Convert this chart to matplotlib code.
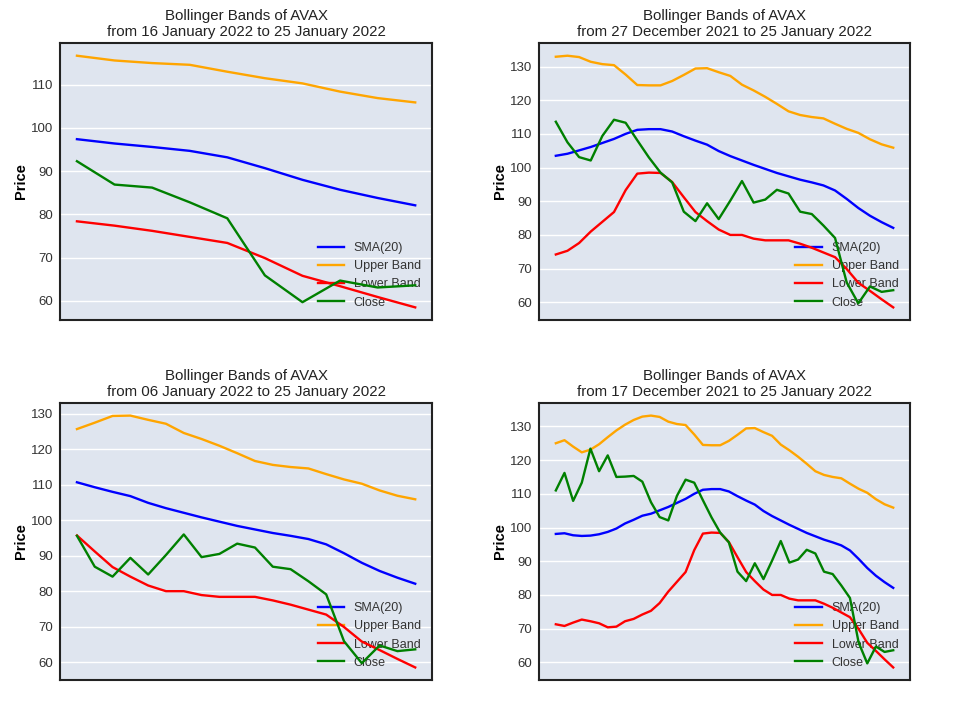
import matplotlib
matplotlib.use("Agg")
import matplotlib.pyplot as plt
import pandas as pd

plt.rcParams["font.family"] = ["Liberation Sans", "DejaVu Sans"]

# daily values, 17 Dec 2021 .. 25 Jan 2022
dates = pd.date_range("2021-12-17", "2022-01-25", freq="D")

close = [111.0, 116.2, 107.9, 113.3, 123.4, 116.7, 121.4, 115.0, 115.1, 115.3,
         113.6, 107.5, 103.1, 102.1, 109.4, 114.2, 113.3, 108.1, 103.0, 98.5,
         95.6, 86.9, 84.1, 89.4, 84.7, 90.2, 96.0, 89.6, 90.5, 93.4,
         92.3, 86.9, 86.2, 82.8, 79.1, 65.9, 59.7, 64.7, 63.1, 63.6]

sma = [98.1, 98.3, 97.7, 97.5, 97.6, 98.0, 98.7, 99.7, 101.2, 102.3,
       103.5, 104.1, 105.1, 106.1, 107.3, 108.5, 110.0, 111.2, 111.4, 111.4,
       110.7, 109.3, 108.0, 106.8, 104.9, 103.4, 102.1, 100.8, 99.6, 98.4,
       97.4, 96.4, 95.6, 94.7, 93.2, 90.7, 88.0, 85.7, 83.8, 82.1]

upper = [125.0, 125.9, 124.0, 122.3, 123.1, 124.7, 126.8, 128.8, 130.5, 131.9,
         132.9, 133.2, 132.8, 131.4, 130.7, 130.4, 127.6, 124.5, 124.4, 124.4,
         125.7, 127.5, 129.4, 129.5, 128.3, 127.2, 124.6, 122.9, 121.0, 118.9,
         116.7, 115.6, 115.0, 114.6, 113.0, 111.5, 110.3, 108.4, 106.9, 105.9]

lower = [71.3, 70.8, 71.8, 72.7, 72.2, 71.6, 70.4, 70.6, 72.2, 72.9,
         74.2, 75.3, 77.6, 81.0, 83.9, 86.8, 93.3, 98.2, 98.5, 98.4,
         95.7, 91.2, 86.8, 84.1, 81.6, 80.0, 80.0, 78.9, 78.4, 78.4,
         78.4, 77.4, 76.2, 74.8, 73.4, 69.9, 65.8, 63.4, 60.9, 58.5]

# how many days each panel shows (TL, TR, BL, BR)
windows = [10, 30, 20, 40]

bg = "#dfe5ef"
fig = plt.figure(figsize=(9.59, 7.19), dpi=100)
boxes = [[0.0626, 0.555, 0.388, 0.385],
         [0.562, 0.555, 0.387, 0.385],
         [0.0626, 0.0542, 0.388, 0.3853],
         [0.562, 0.0542, 0.387, 0.3853]]

for box, n in zip(boxes, windows):
    ax = fig.add_axes(box)
    ax.set_facecolor(bg)
    d = dates[-n:]
    ax.plot(d, sma[-n:], color="blue", lw=1.7, label="SMA(20)")
    ax.plot(d, upper[-n:], color="orange", lw=1.7, label="Upper Band")
    ax.plot(d, lower[-n:], color="red", lw=1.7, label="Lower Band")
    ax.plot(d, close[-n:], color="green", lw=1.7, label="Close")
    ax.set_xticks([])
    ax.grid(axis="y", color="white", lw=1)
    ax.set_axisbelow(True)
    ax.tick_params(axis="y", length=0, labelsize=9.5, labelcolor="#333333", pad=5)
    for s in ax.spines.values():
        s.set_color("#222222")
        s.set_linewidth(1.5)
    ax.set_ylabel("Price", fontsize=10.5, fontweight="bold", labelpad=2)
    start = d[0].strftime("%d %B %Y")
    ax.set_title("Bollinger Bands of AVAX\nfrom %s to 25 January 2022" % start,
                 fontsize=10.8, color="#222222", pad=5)
    leg = ax.legend(loc="lower right", frameon=False, fontsize=9,
                    handlelength=2.1)
    leg.set_zorder(1)
    for t in leg.get_texts():
        t.set_color("#333333")

fig.savefig("out.png", dpi=100)
